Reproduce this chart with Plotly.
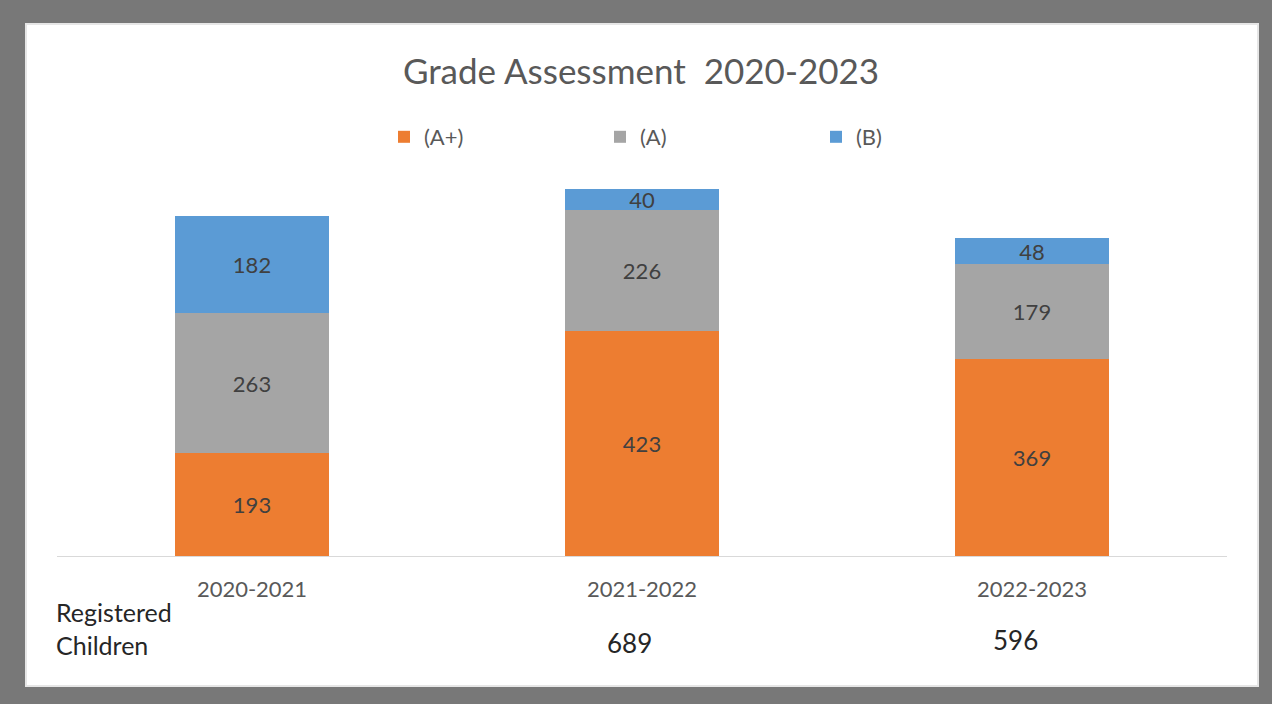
import plotly.graph_objects as go

categories = ["2020-2021", "2021-2022", "2022-2023"]
a_plus = [193, 423, 369]
a_grade = [263, 226, 179]
b_grade = [182, 40, 48]
registered = ["", "689", "596"]

W, H = 1272, 704
L, R, T, B = 57, 45, 183, 148
pw, ph = W - L - R, H - T - B

def px(x):
    return (x - L) / pw

def py(y):
    return (H - B - y) / ph

FONT = "Lato"

fig = go.Figure()
series = [("(A+)", a_plus, "#ED7D31"), ("(A)", a_grade, "#A5A5A5"), ("(B)", b_grade, "#5B9BD5")]
for name, vals, col in series:
    fig.add_trace(go.Bar(
        name=name, x=categories, y=vals, marker=dict(color=col, line=dict(width=0)),
        text=[str(v) for v in vals], textposition="inside", insidetextanchor="middle",
        textangle=0, constraintext="none",
        textfont=dict(family=FONT, size=22, color="#404040"), width=0.397,
    ))

fig.update_layout(
    barmode="stack",
    width=W, height=H,
    margin=dict(l=L, r=R, t=T, b=B, autoexpand=False),
    paper_bgcolor="#787878",
    plot_bgcolor="rgba(0,0,0,0)",
    showlegend=True,
    legend=dict(orientation="h", x=px(384), y=py(137), xanchor="left", yanchor="middle",
                entrywidth=171, entrywidthmode="pixels", traceorder="normal",
                font=dict(family=FONT, size=22, color="#595959"), bgcolor="rgba(0,0,0,0)"),
    title=dict(text="Grade Assessment  2020-2023", x=px(641), xref="paper", xanchor="center",
               y=1 - 72 / H, yanchor="middle",
               font=dict(family=FONT, size=35, color="#595959")),
    xaxis=dict(showline=True, linecolor="#d9d9d9", linewidth=1, showgrid=False, ticks="",
               tickfont=dict(family=FONT, size=22, color="#595959"), ticklabelstandoff=14,
               range=[-0.5, 2.5], fixedrange=True),
    yaxis=dict(range=[0, 700], visible=False, showgrid=False, zeroline=False, fixedrange=True),
    shapes=[
        dict(type="rect", xref="paper", yref="paper", x0=px(26), x1=px(1258), y0=py(686), y1=py(24),
             fillcolor="white", line=dict(color="#e6e6e6", width=2), layer="below"),
    ],
    annotations=[
        dict(text="Registered<br>Children", xref="paper", yref="paper", x=px(54), y=py(628),
             xanchor="left", yanchor="middle", align="left", showarrow=False,
             font=dict(family=FONT, size=25, color="#262626")),
    ] + [
        dict(text=t, xref="x", yref="paper", x=c, xshift=xs, y=py(yy), showarrow=False,
             xanchor="center", yanchor="middle", font=dict(family=FONT, size=26, color="#262626"))
        for c, t, xs, yy in zip(categories, registered, [0, -13, -17], [643, 643, 640]) if t
    ],
)

fig.write_html("out.html", config={"displayModeBar": False},
               post_script="document.body.style.margin='0';document.body.style.overflow='hidden';")
